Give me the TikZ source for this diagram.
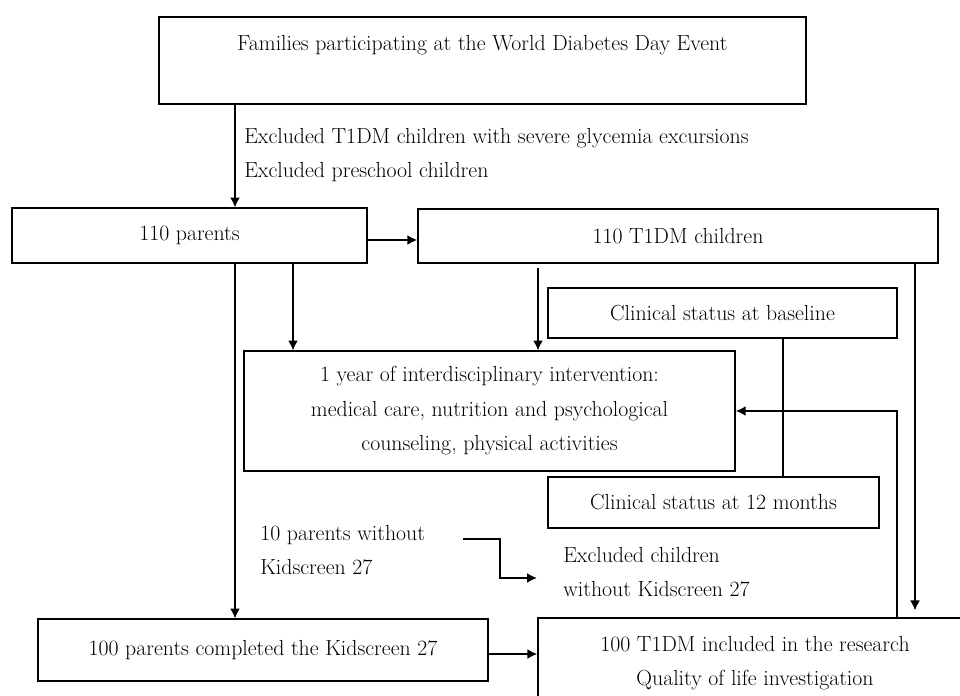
\documentclass[tikz,border=0pt]{standalone}
\usepackage{amsmath}
\usepackage{tikz}
\usetikzlibrary{arrows.meta}

\begin{document}
\begin{tikzpicture}[x=0.025cm, y=-0.025cm,
		box/.style={draw, line width=0.9pt, align=center, inner sep=2pt},
		txt/.style={align=left, anchor=west, inner sep=0pt},
		arr/.style={line width=0.9pt, -{Latex[length=7pt, width=7pt]}},
		harr/.style={line width=1.3pt, -{Latex[length=7pt, width=7pt]}},
		every node/.style={font=\fontsize{15.5pt}{24.5pt}\selectfont}]
			\clip (0,0) rectangle (960,696);
			% Nodes
			\node[box, minimum width=16.175cm, minimum height=2.175cm] (families) at (482.5,60.5) {Families participating at the World Diabetes Day Event\\ \mbox{}};
			\node[box, minimum width=8.875cm, minimum height=1.375cm] (parents) at (189.5,235.5) {110 parents};
			\node[box, minimum width=13cm, minimum height=1.35cm] (children) at (678,236) {110 T1DM children};
			\node[box, minimum width=8.725cm, minimum height=1.25cm] (baseline) at (722.5,313) {Clinical status at baseline};
			\node[box, minimum width=12.275cm, minimum height=3cm] (interv) at (489.5,411) {1 year of interdisciplinary intervention:\\ medical care, nutrition and psychological\\ counseling, physical activities};
			\node[box, minimum width=8.275cm, minimum height=1.275cm] (month12) at (713.5,502.5) {Clinical status at 12 months};
			\node[box, minimum width=11.25cm, minimum height=1.55cm] (parentsdone) at (263,650) {100 parents completed the Kidscreen 27};
			\node[box, minimum width=10.85cm, minimum height=2.25cm] (included) at (755,663) {100 T1DM included in the research\\ Quality of life investigation};
			\node[txt] (excl) at (244,155) {Excluded T1DM children with severe glycemia excursions\\ Excluded preschool children};
			\node[txt] (nokids) at (260,550) {10 parents without\\ Kidscreen 27};
			\node[txt] (exclkids) at (563,572) {Excluded children\\ without Kidscreen 27};
			% Where the connectors run
			\coordinate (xA) at (235,0);
			\coordinate (xB) at (293,0);
			\coordinate (xC) at (538,0);
			\coordinate (xD) at (915,0);
			\coordinate (xE) at (783,0);
			\coordinate (xF) at (897,0);
			\coordinate (yA) at (0,240);
			\coordinate (yB) at (0,654);
			\coordinate (kinkA) at (463,539);
			\coordinate (kinkB) at (537,578);
			% Connectors
			\draw[arr] (families.south -| xA) -- (parents.north -| xA);
			\draw[harr] (parents.east |- yA) -- (children.west |- yA);
			\draw[arr] (parents.south -| xA) -- (parentsdone.north -| xA);
			\draw[arr] (parents.south -| xB) -- (interv.north -| xB);
			\draw[arr, shorten <=3pt] (children.south -| xC) -- (interv.north -| xC);
			\draw[arr, shorten >=5pt] (children.south -| xD) -- (included.north -| xD);
			\draw[line width=0.9pt] (baseline.south -| xE) -- (month12.north -| xE);
			\draw[harr] (included.north -| xF) |- (interv.east);
			\draw[harr] (kinkA) -- ++(37,0) |- (kinkB);
			\draw[harr] (parentsdone.east |- yB) -- (included.west |- yB);
		\end{tikzpicture}
\end{document}
